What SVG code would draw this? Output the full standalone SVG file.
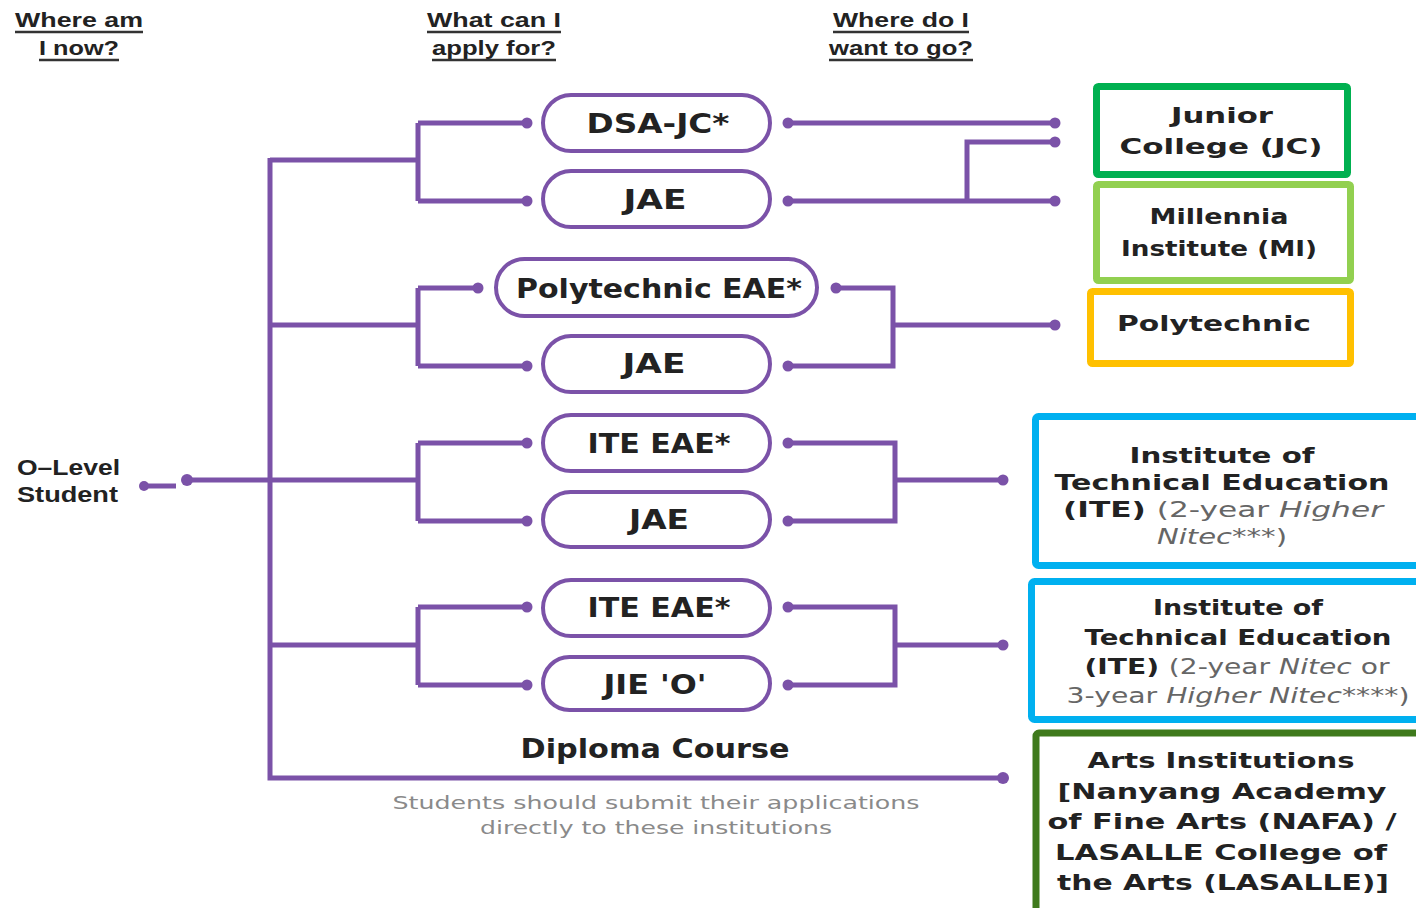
<svg xmlns="http://www.w3.org/2000/svg" width="1416" height="908" viewBox="0 0 1416 908">
<style>
.hd{font-family:"Liberation Sans",Arial,sans-serif;font-weight:bold;font-size:21px;fill:#222;}
.ul{stroke:#333;stroke-width:2.5;}
.lbl{font-family:"Liberation Sans",Arial,sans-serif;font-weight:bold;font-size:22px;fill:#222;}
.pill rect{fill:#fff;stroke:#7b52a8;stroke-width:4;}
.pt{font-family:"DejaVu Sans",Verdana,sans-serif;font-weight:bold;font-size:26px;fill:#222;text-anchor:middle;}
.bt{font-family:"DejaVu Sans",Verdana,sans-serif;font-weight:bold;font-size:22px;fill:#222;text-anchor:middle;}
.rg{font-weight:normal;fill:#666;}
.it{font-weight:normal;font-style:italic;fill:#666;}
.box{fill:#fff;stroke-width:7;}
.conn path{fill:none;stroke:#7b52a8;stroke-width:5;}
.conn circle{fill:#7b52a8;}
.note{font-family:"DejaVu Sans",Verdana,sans-serif;font-size:17px;fill:#8a8a8a;text-anchor:middle;}
</style>

<g id="headers">
<text class="hd" x="15" y="27" textLength="128" lengthAdjust="spacingAndGlyphs">Where am</text>
<line class="ul" x1="15" y1="32" x2="143" y2="32"/>
<text class="hd" x="39" y="55" textLength="80" lengthAdjust="spacingAndGlyphs">I now?</text>
<line class="ul" x1="39" y1="60" x2="119" y2="60"/>
<text class="hd" x="427" y="27" textLength="134" lengthAdjust="spacingAndGlyphs">What can I</text>
<line class="ul" x1="427" y1="32" x2="561" y2="32"/>
<text class="hd" x="432" y="55" textLength="124" lengthAdjust="spacingAndGlyphs">apply for?</text>
<line class="ul" x1="432" y1="60" x2="556" y2="60"/>
<text class="hd" x="833" y="27" textLength="136" lengthAdjust="spacingAndGlyphs">Where do I</text>
<line class="ul" x1="833" y1="32" x2="969" y2="32"/>
<text class="hd" x="829" y="55" textLength="144" lengthAdjust="spacingAndGlyphs">want to go?</text>
<line class="ul" x1="829" y1="60" x2="973" y2="60"/>
</g>

<g id="o-level-student">
<text class="lbl" x="17" y="475" textLength="103" lengthAdjust="spacingAndGlyphs">O–Level</text>
<text class="lbl" x="17" y="502" textLength="101" lengthAdjust="spacingAndGlyphs">Student</text>
</g>

<g class="conn" id="connectors">
<circle cx="144" cy="486" r="5"/>
<path d="M144 486H176"/>
<circle cx="187" cy="480" r="6"/>
<path d="M187 480H418"/>
<path d="M270 158V778H1003"/>
<circle cx="1003" cy="778" r="6"/>
<!-- group 1 -->
<path d="M270 160H418M418 123V201M418 123H527M418 201H527"/>
<circle cx="527" cy="123" r="5.5"/><circle cx="527" cy="201" r="5.5"/>
<path d="M788 123H1055M788 201H1055M967 201V142H1055"/>
<circle cx="788" cy="123" r="5.5"/><circle cx="788" cy="201" r="5.5"/>
<circle cx="1055" cy="123" r="5.5"/><circle cx="1055" cy="142" r="5.5"/><circle cx="1055" cy="201" r="5.5"/>
<!-- group 2 -->
<path d="M270 325H418M418 288V366M418 288H478M418 366H527"/>
<circle cx="478" cy="288" r="5.5"/><circle cx="527" cy="366" r="5.5"/>
<path d="M836 288H893V366H788M893 325H1055"/>
<circle cx="836" cy="288" r="5.5"/><circle cx="788" cy="366" r="5.5"/><circle cx="1055" cy="325" r="5.5"/>
<!-- group 3 -->
<path d="M418 443V521M418 443H527M418 521H527"/>
<circle cx="527" cy="443" r="5.5"/><circle cx="527" cy="521" r="5.5"/>
<path d="M788 443H895V521H788M895 480H1003"/>
<circle cx="788" cy="443" r="5.5"/><circle cx="788" cy="521" r="5.5"/><circle cx="1003" cy="480" r="5.5"/>
<!-- group 4 -->
<path d="M270 645H418M418 607V685M418 607H527M418 685H527"/>
<circle cx="527" cy="607" r="5.5"/><circle cx="527" cy="685" r="5.5"/>
<path d="M788 607H895V685H788M895 645H1003"/>
<circle cx="788" cy="607" r="5.5"/><circle cx="788" cy="685" r="5.5"/><circle cx="1003" cy="645" r="5.5"/>
</g>

<g class="pill" id="pill-dsa-jc">
<rect x="543" y="95" width="227" height="56" rx="28"/>
<text class="pt" x="658" y="133" textLength="143" lengthAdjust="spacingAndGlyphs">DSA-JC*</text>
</g>
<g class="pill" id="pill-jae-1">
<rect x="543" y="171" width="227" height="56" rx="28"/>
<text class="pt" x="655" y="209" textLength="63" lengthAdjust="spacingAndGlyphs">JAE</text>
</g>
<g class="pill" id="pill-poly-eae">
<rect x="496" y="259" width="321" height="57" rx="28.5"/>
<text class="pt" x="659" y="298" textLength="286" lengthAdjust="spacingAndGlyphs">Polytechnic EAE*</text>
</g>
<g class="pill" id="pill-jae-2">
<rect x="543" y="336" width="227" height="56" rx="28"/>
<text class="pt" x="654" y="373" textLength="63" lengthAdjust="spacingAndGlyphs">JAE</text>
</g>
<g class="pill" id="pill-ite-eae-1">
<rect x="543" y="415" width="227" height="56" rx="28"/>
<text class="pt" x="659" y="453" textLength="143" lengthAdjust="spacingAndGlyphs">ITE EAE*</text>
</g>
<g class="pill" id="pill-jae-3">
<rect x="543" y="492" width="227" height="55" rx="27.5"/>
<text class="pt" x="659" y="529" textLength="60" lengthAdjust="spacingAndGlyphs">JAE</text>
</g>
<g class="pill" id="pill-ite-eae-2">
<rect x="543" y="580" width="227" height="56" rx="28"/>
<text class="pt" x="659" y="617" textLength="143" lengthAdjust="spacingAndGlyphs">ITE EAE*</text>
</g>
<g class="pill" id="pill-jie-o">
<rect x="543" y="657" width="227" height="53" rx="26.5"/>
<text class="pt" x="655" y="694" textLength="103" lengthAdjust="spacingAndGlyphs">JIE 'O'</text>
</g>

<g id="diploma-course">
<text class="pt" x="655" y="758" font-size="24" textLength="269" lengthAdjust="spacingAndGlyphs">Diploma Course</text>
<text class="note" x="656" y="809" textLength="527" lengthAdjust="spacingAndGlyphs">Students should submit their applications</text>
<text class="note" x="656" y="834" textLength="352" lengthAdjust="spacingAndGlyphs">directly to these institutions</text>
</g>

<g id="box-jc">
<rect class="box" x="1096.5" y="86.5" width="251" height="88" rx="2" stroke="#00b050"/>
<text class="bt" x="1222" y="123" textLength="102" lengthAdjust="spacingAndGlyphs">Junior</text>
<text class="bt" x="1221" y="154" textLength="203" lengthAdjust="spacingAndGlyphs">College (JC)</text>
</g>
<g id="box-mi">
<rect class="box" x="1096.5" y="184.5" width="254" height="96" rx="2" stroke="#92d050"/>
<text class="bt" x="1219" y="224" textLength="139" lengthAdjust="spacingAndGlyphs">Millennia</text>
<text class="bt" x="1219" y="256" textLength="196" lengthAdjust="spacingAndGlyphs">Institute (MI)</text>
</g>
<g id="box-poly">
<rect class="box" x="1090.5" y="291.5" width="260" height="72" rx="2" stroke="#ffc000"/>
<text class="bt" x="1214" y="331" textLength="194" lengthAdjust="spacingAndGlyphs">Polytechnic</text>
</g>
<g id="box-ite-1">
<rect class="box" x="1035.5" y="416.5" width="400" height="149" rx="3" stroke="#00b0f0"/>
<text class="bt" x="1222" y="463" textLength="185" lengthAdjust="spacingAndGlyphs">Institute of</text>
<text class="bt" x="1222" y="490" textLength="335" lengthAdjust="spacingAndGlyphs">Technical Education</text>
<text class="bt" x="1223" y="517" textLength="320" lengthAdjust="spacingAndGlyphs">(ITE) <tspan class="rg">(2-year </tspan><tspan class="it">Higher</tspan></text>
<text class="bt" x="1222" y="544" textLength="130" lengthAdjust="spacingAndGlyphs"><tspan class="it">Nitec***</tspan><tspan class="rg">)</tspan></text>
</g>
<g id="box-ite-2">
<rect class="box" x="1031.5" y="581.5" width="400" height="138" rx="3" stroke="#00b0f0"/>
<text class="bt" x="1238" y="615" textLength="170" lengthAdjust="spacingAndGlyphs">Institute of</text>
<text class="bt" x="1238" y="645" textLength="307" lengthAdjust="spacingAndGlyphs">Technical Education</text>
<text class="bt" x="1237" y="674" textLength="305" lengthAdjust="spacingAndGlyphs">(ITE) <tspan class="rg">(2-year </tspan><tspan class="it">Nitec</tspan><tspan class="rg"> or</tspan></text>
<text class="bt" x="1238" y="703" textLength="343" lengthAdjust="spacingAndGlyphs"><tspan class="rg">3-year </tspan><tspan class="it">Higher Nitec****</tspan><tspan class="rg">)</tspan></text>
</g>
<g id="box-arts">
<rect class="box" x="1036" y="733" width="400" height="200" rx="3" stroke="#3f7a1c" stroke-width="6"/>
<text class="bt" x="1221" y="768" textLength="267" lengthAdjust="spacingAndGlyphs">Arts Institutions</text>
<text class="bt" x="1222" y="799" textLength="329" lengthAdjust="spacingAndGlyphs">[Nanyang Academy</text>
<text class="bt" x="1222" y="829" textLength="349" lengthAdjust="spacingAndGlyphs">of Fine Arts (NAFA) /</text>
<text class="bt" x="1221" y="860" textLength="332" lengthAdjust="spacingAndGlyphs">LASALLE College of</text>
<text class="bt" x="1223" y="890" textLength="332" lengthAdjust="spacingAndGlyphs">the Arts (LASALLE)]</text>
</g>
</svg>
